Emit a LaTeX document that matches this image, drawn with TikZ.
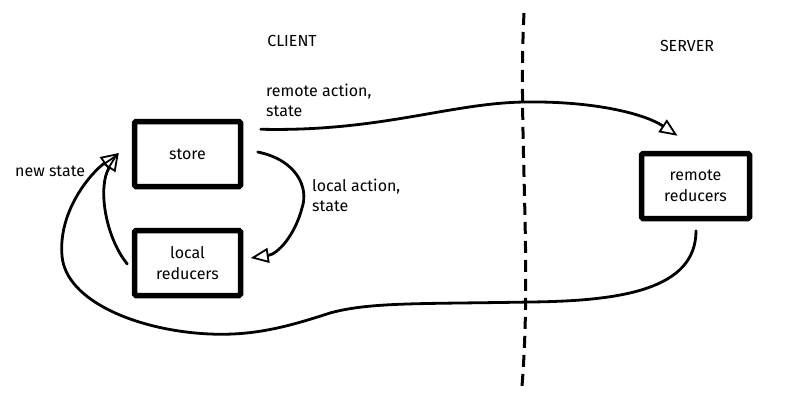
\documentclass[tikz,border=0pt]{standalone}
\usepackage{fontspec}
\setmainfont{Fira Sans}
\usetikzlibrary{arrows.meta,calc}
\tikzset{
  box/.style={draw=black, line width=5.5pt, rounded corners=1.5pt, fill=white,
    minimum width=106pt, minimum height=65pt, inner sep=0pt, align=center,
    font=\fontsize{16pt}{21pt}\selectfont},
  lbl/.style={inner sep=0pt, align=left, font=\fontsize{16pt}{20pt}\selectfont},
  conn/.style={line width=2.8pt, line cap=round,
    -{Triangle[open, length=18pt, width=15pt, line width=1.8pt]}},
  divider/.style={line width=3pt, dash pattern=on 12pt off 7pt}
}
\begin{document}
\begin{tikzpicture}[x=1pt, y=-1pt]
\useasboundingbox (0,0) rectangle (800,413);
\fill[white] (0,0) rectangle (800,413);

% divider
\coordinate (dtop) at (524,13);
\coordinate (dbot) at (522,386);
\draw[divider] (dtop) .. controls (518,130) and (532,260) .. (dbot);

% boxes
\node[box] (store) at (187.5,154) {store};
\node[box] (local) at (187.5,263) {local\\reducers};
\node[box, minimum width=108pt] (remote) at (695.5,186) {remote\\reducers};

% labels
\node[lbl, anchor=center] (client) at (292,41) {CLIENT};
\node[lbl, anchor=center] (server) at (687,46) {SERVER};
\node[lbl, anchor=west] (ra) at (266,100) {remote action,\\state};
\node[lbl, anchor=west] (la) at (312,195) {local action,\\state};
\node[lbl, anchor=west] (ns) at (15,171) {new state};

% connector end points
\coordinate (raS) at ($(store.north east)+(17.5,10.5)$);
\coordinate (raE) at ($(remote.north)+(-18,-15)$);
\coordinate (laS) at ($(store.east)+(14.5,-2)$);
\coordinate (laE) at ($(local.east)+(7.5,-5)$);
\coordinate (lrS) at ($(local.west)+(-4.5,1)$);
\coordinate (stE) at ($(store.west)+(-13,-1)$);
\coordinate (rrS) at ($(remote.south)+(0.5,9.5)$);

% remote action, state
\draw[conn] (raS) .. controls (380,132) and (450,103) .. (525,102)
  .. controls (595,101) and (645,114) .. (raE);
% local action, state
\draw[conn] (laS) .. controls (297,160) and (309,188) .. (302,208)
  .. controls (295,235) and (278,254) .. (laE);
% local reducers -> store
\draw[conn] (lrS) .. controls (104,235) and (98,185) .. (stE);
% remote reducers -> store (new state)
\draw[conn] (rrS) .. controls (696,290) and (620,301) .. (530,302)
  .. controls (420,304) and (370,302) .. (330,313)
  .. controls (290,326) and (255,336) .. (210,334)
  .. controls (140,331) and (66,302) .. (62,256)
  .. controls (58,210) and (92,172) .. (stE);
\end{tikzpicture}
\end{document}
